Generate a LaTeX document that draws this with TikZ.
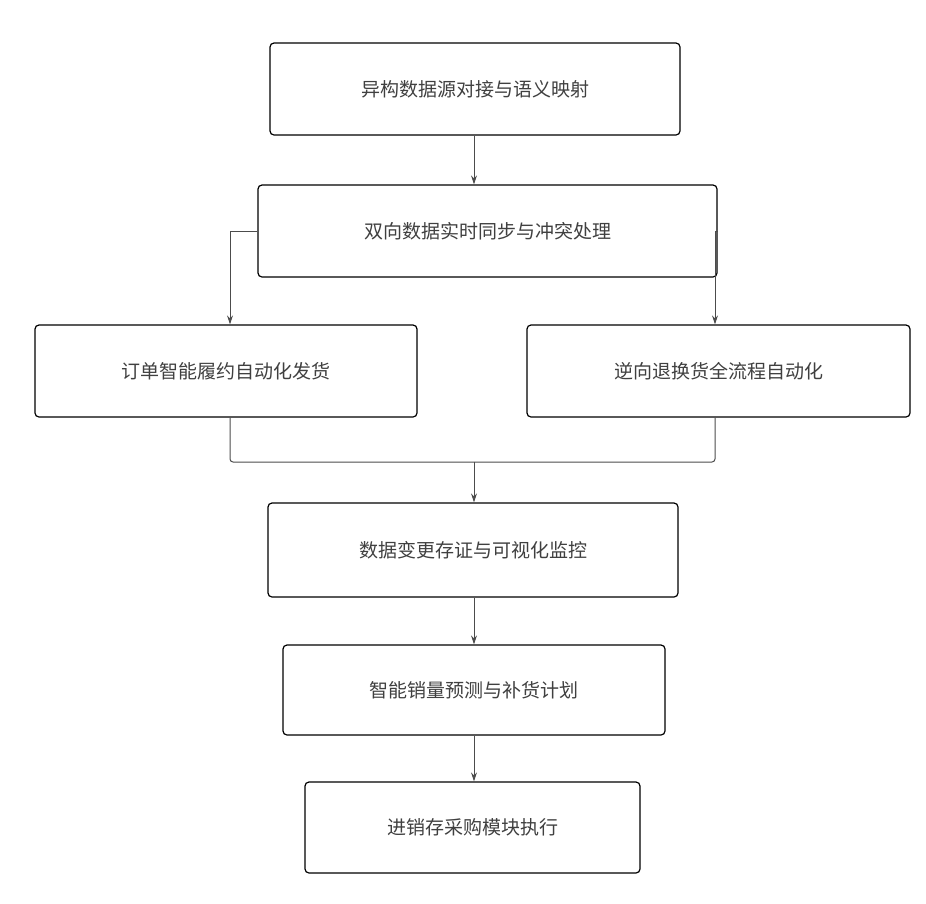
\documentclass[tikz,border=0pt]{standalone}
\usepackage{fontspec}
\setmainfont{Noto Sans CJK SC}
\usetikzlibrary{arrows.meta}

\tikzset{
  stage/.style={draw, line width=1.2pt, rounded corners=4pt, fill=white,
    font=\fontsize{19}{22}\selectfont, text=black!75, inner sep=0pt},
  link/.style={draw=black!70, line width=1pt, -{Stealth[length=9pt,width=6pt]}},
  wire/.style={draw=black!70, line width=1pt, rounded corners=3pt}
}

\begin{document}
\begin{tikzpicture}[x=1pt, y=-1pt]
  \useasboundingbox (0, 0) rectangle (926, 903);
  % Boxes
  \node [stage, minimum width=410, minimum height=92] (map) at (475, 89) {异构数据源对接与语义映射};
  \node [stage, minimum width=459, minimum height=92] (sync) at (487.5, 231) {双向数据实时同步与冲突处理};
  \node [stage, minimum width=382, minimum height=92] (order) at (226, 371) {订单智能履约自动化发货};
  \node [stage, minimum width=383, minimum height=92] (ret) at (718.5, 371) {逆向退换货全流程自动化};
  \node [stage, minimum width=410, minimum height=94] (log) at (473, 550) {数据变更存证与可视化监控};
  \node [stage, minimum width=382, minimum height=90] (fc) at (474, 690) {智能销量预测与补货计划};
  \node [stage, minimum width=335, minimum height=91] (erp) at (472.5, 827.5) {进销存采购模块执行};
  % Guide points for the branches
  \coordinate (join) at (474, 462);
  \coordinate (lx) at (230, 0);
  \coordinate (rx) at (715, 0);
  % Connectors
  \draw [link] (map.south -| join) -- (sync.north -| join);
  \draw [link] (sync.west) -| (order.north -| lx);
  \draw [link] (sync.east) -| (ret.north -| rx);
  \draw [wire] (order.south -| lx) |- (join);
  \draw [wire] (ret.south -| rx) |- (join);
  \draw [link] (join) -- (log.north -| join);
  \draw [link] (log.south -| join) -- (fc.north -| join);
  \draw [link] (fc.south -| join) -- (erp.north -| join);
\end{tikzpicture}
\end{document}
